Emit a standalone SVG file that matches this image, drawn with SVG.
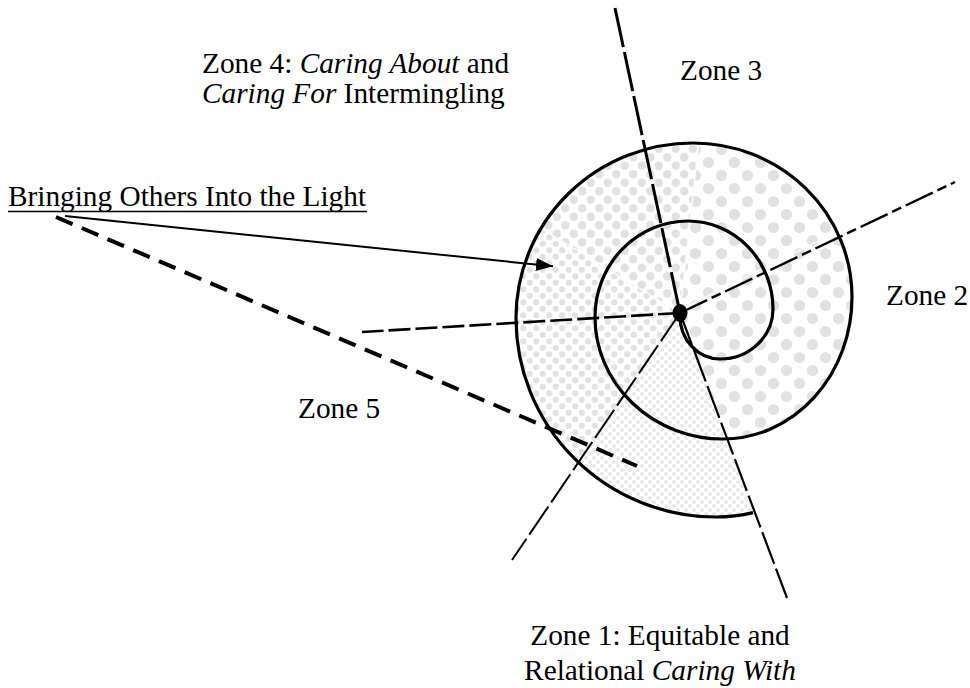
<svg xmlns="http://www.w3.org/2000/svg" width="970" height="688" viewBox="0 0 970 688">
<style>
text{font-family:"Liberation Serif","Times New Roman",serif;font-size:29.3px;fill:#000}
.it{font-style:italic}
.sp{fill:none;stroke:#000;stroke-width:3.2}
.ln{fill:none;stroke:#000;stroke-linecap:butt}
.wl{stroke:#fff;stroke-width:1.4;opacity:.9}
</style>
<defs>
<pattern id="pBig" width="26" height="26" patternUnits="userSpaceOnUse">
<circle cx="6.5" cy="6.5" r="5.6" fill="#e2e2e2"/><circle cx="19.5" cy="19.5" r="5.6" fill="#e2e2e2"/>
</pattern>
<pattern id="pMed" width="17" height="17" patternUnits="userSpaceOnUse">
<circle cx="4.25" cy="4.25" r="4.2" fill="#e2e2e2"/><circle cx="12.75" cy="12.75" r="4.2" fill="#e2e2e2"/>
</pattern>
<pattern id="pSmall" width="13" height="13" patternUnits="userSpaceOnUse">
<circle cx="3.25" cy="3.25" r="3.1" fill="#e2e2e2"/><circle cx="9.75" cy="9.75" r="3.1" fill="#e2e2e2"/>
</pattern>
<pattern id="pFine" width="8" height="8" patternUnits="userSpaceOnUse">
<circle cx="2" cy="2" r="1.9" fill="#e6e6e6"/><circle cx="6" cy="6" r="1.9" fill="#e6e6e6"/>
</pattern>
<clipPath id="spiralArea">
<path d="M 727 439 A 129 142 0 0 0 852 297 A 159 154 0 0 0 693 143 A 177 175 0 0 0 516 318 A 200 199 0 0 0 716 517 A 184 217 0 0 0 753 512.6 Z"/>
</clipPath>
<marker id="arrow" markerWidth="18" markerHeight="14" refX="17" refY="6.5" orient="auto" markerUnits="userSpaceOnUse">
<path d="M0,0 L17,6.5 L0,13 Z" fill="#000"/>
</marker>
</defs>
<rect width="970" height="688" fill="#fff"/>

<g id="spiral-fill" clip-path="url(#spiralArea)">
<polygon points="680,313 821,688 1200,700 1200,-200 724,-85" fill="url(#pBig)"/>
<polygon points="680,313 724,-85 338,105" fill="url(#pMed)"/>
<polygon points="680,313 338,105 100,313 455,644" fill="url(#pSmall)"/>
<polygon points="680,313 455,644 821,688" fill="url(#pFine)"/>
<line class="wl" x1="680" y1="313" x2="724" y2="-85"/>
<line class="wl" x1="680" y1="313" x2="338" y2="105"/>
<line class="wl" x1="680" y1="310" x2="880" y2="210"/>
</g>

<g id="spiral">
<path class="sp" d="M 680 316 A 40 43 0 0 0 720 359 A 53 50 0 0 0 773 309 A 85 88 0 0 0 688 221 A 93 96 0 0 0 595 317 A 128 122 0 0 0 723 439 A 129 142 0 0 0 852 297 A 159 154 0 0 0 693 143 A 177 175 0 0 0 516 318 A 200 199 0 0 0 716 517 A 184 217 0 0 0 753 512.6"/>
</g>

<g id="connectors">
<line id="line-zone3" class="ln" x1="615" y1="8" x2="680" y2="313" stroke-width="3" stroke-dasharray="40 5"/>
<line id="line-zone2" class="ln" x1="680" y1="313" x2="955" y2="182" stroke-width="2.4" stroke-dasharray="30 5 10 5"/>
<line id="line-left" class="ln" x1="680" y1="313" x2="362" y2="332" stroke-width="2.6" stroke-dasharray="22 5"/>
<line id="line-lowerleft" class="ln" x1="680" y1="313" x2="512" y2="560" stroke-width="2" stroke-dasharray="34 5"/>
<line id="line-lowerright" class="ln" x1="680" y1="313" x2="787" y2="598" stroke-width="2.2" stroke-dasharray="34 5"/>
<line id="line-zone5" class="ln" x1="56" y1="217" x2="637" y2="466" stroke-width="4" stroke-dasharray="18 10"/>
<line id="arrow-light" class="ln" x1="65" y1="216" x2="553" y2="266.3" stroke-width="2" marker-end="url(#arrow)"/>
</g>

<g id="center-node">
<ellipse cx="680" cy="313" rx="7.5" ry="9" fill="#000"/>
</g>

<g id="label-light">
<text x="8" y="206">Bringing Others Into the Light</text>
<line x1="8" y1="211.5" x2="367" y2="211.5" stroke="#000" stroke-width="1.5"/>
</g>
<g id="zone4">
<text x="202" y="73">Zone 4: <tspan class="it">Caring About</tspan> and</text>
<text x="202" y="103"><tspan class="it">Caring For</tspan> Intermingling</text>
</g>
<g id="zone3"><text x="680" y="80">Zone 3</text></g>
<g id="zone2"><text x="886" y="305">Zone 2</text></g>
<g id="zone5"><text x="298" y="418">Zone 5</text></g>
<g id="zone1">
<text x="660" y="645" text-anchor="middle">Zone 1: Equitable and</text>
<text x="660" y="680" text-anchor="middle">Relational <tspan class="it">Caring With</tspan></text>
</g>
</svg>
